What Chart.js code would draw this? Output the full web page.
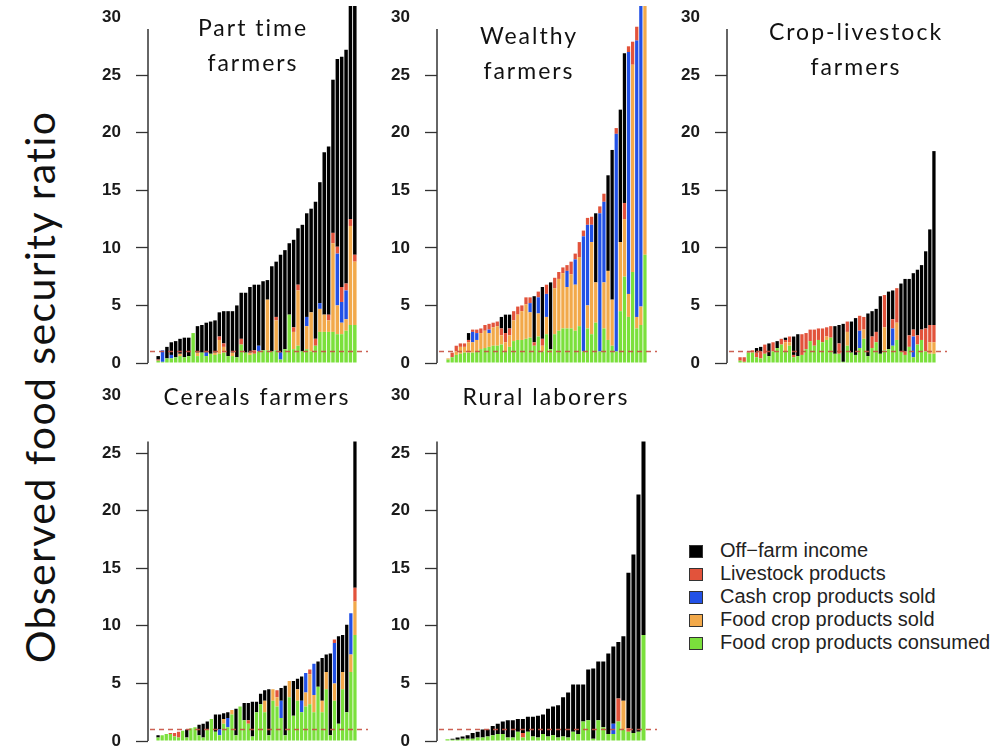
<!DOCTYPE html>
<html><head><meta charset="utf-8">
<script src="https://cdn.jsdelivr.net/npm/chart.js@4.4.1/dist/chart.umd.min.js"></script>
<style>
html,body{margin:0;padding:0;background:#fff;width:994px;height:747px;overflow:hidden;}
body{position:relative;}
canvas{position:absolute;}
.ttl{position:absolute;width:220px;font-family:Lato,'Open Sans',sans-serif;font-size:23px;letter-spacing:2px;color:#111;text-align:center;line-height:35px;white-space:nowrap;}
#ytitle{position:absolute;left:40px;top:387px;width:640px;margin-left:-320px;margin-top:-26px;height:52px;line-height:52px;text-align:center;font-family:Lato,'Open Sans',sans-serif;font-size:41px;letter-spacing:1.4px;color:#111;transform:rotate(-90deg);white-space:nowrap;}
#legend{position:absolute;left:689px;top:539px;font-family:'Liberation Sans',Arial,sans-serif;font-size:20px;color:#222;}
#legend .row{height:23px;line-height:23px;white-space:nowrap;}
#legend .sw{display:inline-block;width:12px;height:11px;border:1px solid #333;margin-right:17px;vertical-align:-1px;}
</style></head><body>
<div id="ytitle">Observed food security ratio</div>
<canvas id="c1" width="320" height="420" style="left:60px;top:-30px"></canvas>
<canvas id="c2" width="320" height="420" style="left:349px;top:-30px"></canvas>
<canvas id="c3" width="320" height="420" style="left:639px;top:-30px"></canvas>
<canvas id="c4" width="320" height="405" style="left:60px;top:365px"></canvas>
<canvas id="c5" width="320" height="405" style="left:349px;top:365px"></canvas>
<div class="ttl" style="left:143px;top:9.5px">Part time<br>farmers</div>
<div class="ttl" style="left:419px;top:17.5px">Wealthy<br>farmers</div>
<div class="ttl" style="left:746px;top:13.5px">Crop-livestock<br>farmers</div>
<div class="ttl" style="left:147px;top:378.5px">Cereals farmers</div>
<div class="ttl" style="left:436px;top:378.5px">Rural laborers</div>
<div id="legend"></div>
<script>
// ---------- data ----------
const seriesNames = ['Off\u2212farm income','Livestock products','Cash crop products sold','Food crop products sold','Food crop products consumed'];
const yTicks = [0,5,10,15,20,25,30];
const refRatio = 1;

// Part time farmers
const partGreen  = [0.2,0.1,0.4,0.4,0.5,0.6,0.5,0.6,2.6,0.6, 0.9,0.6,0.8,0.7,0.8,0.9,0.6,0.6,0.5,1.6, 0.9,0.7,0.8,1.0,1.1,1.1,1.0,1.1,0.3,1.2, 4.2,1.2,1.5,1.0,1.2,1.0,1.5,2.7,2.7,2.7, 2.7,2.5,2.5,2.8,3.3,3.3];
const partOrange = [0,0,0,0,0,0.2,0,0,0,0.3, 0,0,0,0.2,1.2,0.5,0,0.3,0,0, 0,0.2,0,0,0,4.4,0,2.6,0,0, 0,1.5,4.8,0,2.0,3.4,0,2.0,1.5,1.0, 7.7,2.5,1.0,1.0,8.6,5.5];
const partBlue   = [0,1.0,0,0.3,0,0,0,0,0,0, 0,0.3,0,0,0,0,0,0,0,0, 0,0,0,0.5,0,0,0,0,0.6,0, 0,0,0,0,0.8,0,0,0.5,0,0, 0,4.5,1.8,2.5,0,0];
const partRed    = [0.1,0,0,0,0,0,0,0,0,0, 0,0,0,0,0.3,0.3,0,0,0,0.5, 0,0,0.3,0,0,0,0,0.3,0,0, 0,0.4,0.5,0,0,0,0.6,0,0,0.5, 0.9,0.6,1.3,0.6,0.6,0.6];
const partBlack  = [0.3,0,1.0,1.1,1.4,1.3,1.7,1.6,0,2.3, 2.4,2.6,2.8,2.8,2.1,2.8,3.9,3.6,4.5,4.0, 5.2,5.7,5.7,5.3,6.0,1.7,7.4,4.8,8.5,8.6, 6.2,7.6,4.9,11.0,9.0,9.0,11.9,10.5,14.1,14.6, 13.3,16.3,20.0,20.3,20.5,23.6];

// Wealthy farmers
const wealthGreen  = [0.3,0.5,0.7,0.8,0.9,0.9,0.9,1.0,1.2,1.3, 1.4,1.5,1.5,1.6,1.0,1.4,1.9,2.0,2.0,2.1, 2.2,1.5,2.3,1.0,2.5,1.2,2.5,2.8,3.0,3.0, 3.0,2.8,3.2,1.0,3.0,2.5,3.5,1.0,3.0,2.0, 1.5,1.0,4.5,7.5,4.0,7.9,3.0,3.3,9.4];
const wealthOrange = [0.1,0,0.3,0.6,0.5,0.9,0.9,1.0,1.4,1.5, 1.2,1.6,1.7,0.8,0.8,1.0,1.8,2.2,2.5,3.0, 2.2,0,2.0,0.5,1.5,0,4.0,4.5,4.8,3.6, 4.7,4.0,6.0,0,2.0,8.0,3.5,0,4.0,6.0, 4.0,0,6.0,5.0,2.0,18.0,1.0,1.6,21.6];
const wealthBlue   = [0,0,0,0,0,0,0.9,0.6,0,0, 0.3,0,0,0,0,0,0,0,0,0, 0.8,0,1.4,0,2.0,0,0,0,0,1.4, 0,2.2,0,10.0,7.0,1.5,0,12.0,7.0,0, 0,18.9,0,0,21.0,0,24.0,26.1,0];
const wealthRed    = [0,0.4,0.5,0.3,0.3,0.2,0.2,0.3,0.4,0.5, 0.5,0.4,0.4,0.6,0.8,0.6,0.8,0.7,0.5,0.6, 0.5,0.3,0.5,0.6,0.8,0,0.9,0.6,0.5,0.5, 1.1,0.5,1.3,0.5,0.6,0.7,0,0.6,0.7,0, 0,0.5,0,1.4,0.5,2.0,1.2,0,0];
const wealthBlack  = [0,0,0,0,0,0.6,0,0,0,0, 0,0,0,1.0,1.6,1.2,0,0,0,0, 0,4.0,0,4.5,0,5.8,0,0,0,0, 0,0,0,0,0,0,6.0,0,0,8.3, 13.0,0,11.5,13.0,0,0,0,0,0];

// Crop-livestock farmers
const cropGreen  = [0.2,0.1,0.9,0.9,0.5,0.4,0.8,0.6,1.0,1.3, 1.6,1.0,1.5,0.5,0.6,0.7,1.2,1.9,1.5,2.0, 1.8,2.0,2.2,0.8,0.8,0.1,1.5,0.9,0.7,1.3, 2.1,0.6,1.3,1.8,0.8,1.1,1.2,1.5,2.0,1.0, 0.7,1.4,0.5,1.6,2.0,1.0,0.8,0.8];
const cropOrange = [0,0,0,0,0,0,0,0,0,0, 0,0.8,0.3,0,0,0,0,0,0,0, 0,0.3,0,0,0,0,1.2,0,0,0, 0.8,0,0,0,0,2.0,0,0,1.5,0, 0,0,0,0,0,0,1.0,1.0];
const cropBlue   = [0,0,0,0,0,0,0,0,0,0, 0,0,0,0,0,0,0,0,0,0, 0,0,0,0,0,0,0,0,0,1.5, 0,0,0,0,0,0,0,1.5,0,0, 0,0,1.8,0,0,0,0,0];
const cropRed    = [0.3,0.4,0.1,0.2,0.4,0.6,0.8,0,0.8,0, 0.5,0.2,0.5,0.2,0,1.8,1.4,1.0,1.4,1.0, 1.2,0.8,1.0,0,0.9,0,0.9,0,0,1.3, 1.1,0,1.0,0.9,0,2.8,0,0.8,3.0,0, 0.3,1.0,0.6,0.8,0.9,2.0,1.5,1.5];
const cropBlack  = [0,0,0,0,0.4,0.4,0,1.1,0,0.6, 0,0.2,0,1.6,1.9,0,0,0,0,0, 0,0,0,2.4,1.6,3.3,0,2.7,3.2,0, 0,3.7,2.2,2.0,5.0,0,5.0,2.5,0,5.9, 6.3,4.9,4.9,5.7,5.6,6.7,8.3,15.1];

// Cereals farmers
const cerGreen  = [0.3,0.5,0.6,0.6,0.4,0.3,0.9,0.3,1.1,1.2, 0.5,0.3,1.0,1.9,0.8,0.5,1.5,1.2,2.3,0.5, 3.0,1.8,1.5,0.4,2.5,3.2,2.5,0.5,3.5,3.0, 2.0,0.5,3.8,2.2,3.5,2.5,3.0,3.2,2.5,4.7, 2.5,4.5,0.5,3.5,1.5,4.5,2.5,6.0,9.2];
const cerOrange = [0,0,0,0,0,0,0,0,0,0, 0,0,0,0,0,0,0.4,0,0.4,0, 0,0,0,0,0,0,1.0,0,1.0,0.8, 0,0,1.4,0,1.0,0,1.2,2.6,1.5,0, 1.0,1.5,0,1.5,0,1.5,0,1.5,2.9];
const cerBlue   = [0,0,0,0,0,0,0,0,0,0, 0,0,0,0,0,0.5,0,0.8,0,0, 0,0,0,0,0,0,0,0,0,0, 1.5,0,0,0,0,1.0,1.7,0,2.7,0, 0,0,0,3.5,0,0,0,3.6,0];
const cerRed    = [0,0,0,0.1,0.3,0.5,0,0,0,0, 0,0,0,0,0,0,0,0,0,0, 0,0,0.3,0,0,0,0,0,0,0.6, 0,0,0,0,0,0,0,0.4,0,0, 0,0,0,0.3,0,0,0,0,1.2];
const cerBlack  = [0.2,0,0,0,0,0,0,0.7,0,0, 0.9,1.2,0.7,0,1.5,1.3,0.5,0.5,0,2.3, 0,1.5,1.5,3.0,0.9,0.9,0.9,4.0,0,0, 1.1,4.3,0,3.0,0.9,2.1,0,0,0,2.2, 3.7,1.5,7.1,0,7.6,3.2,7.6,0,12.7];

// Rural laborers
const ruralGreen  = [0.15,0.1,0.1,0.2,0.2,0.2,0.3,0.3,0.4,0.5, 0.6,0.6,0.3,0.3,0.8,0.3,0.8,0.4,0.3,0.6, 0.4,0.5,0.3,0.4,0.3,0.8,0.6,1.7,1.8,0.2, 1.8,1.2,0.6,0.6,1.7,1.0,0.8,0.7,0.8,9.2];
const ruralOrange = [0,0,0,0,0,0,0,0,0,0, 0,0,0,0,0,0,0,0,0,0, 0,0,0,0,0,0,0,0,0,0, 0,0,0,0,0,2.5,0,0,0,0];
const ruralBlue   = [0,0,0,0,0,0,0,0,0,0, 0,0,0,0,0,0,0,0,0,0, 0,0,0,0,0,0,0,0,0,0, 0,0,0,0.9,0,0,0,0,0,0];
const ruralRed    = [0,0,0,0,0,0,0,0,0,0, 0,0,0,0,0,0.4,0,0,0,0, 0,0,0,0,0,0,0,0,0,0, 0,0,0,0,2.0,0,0.3,0,0,0];
const ruralBlack  = [0,0.1,0.2,0.2,0.3,0.5,0.5,0.7,0.6,0.8, 0.9,1.1,1.5,1.5,1.1,1.2,1.3,1.7,1.9,1.7, 2.4,2.5,2.8,3.4,3.9,4.1,4.3,3.2,4.4,6.1, 5.1,5.7,7.0,6.7,4.9,5.6,13.5,15.5,20.6,16.8];

// ---------- styles ----------
const colBlack = '#000000', colRed = '#e2533b', colBlue = '#2251e6', colOrange = '#f2a94a', colGreen = '#7be03c';

const framePlugin = {
  id: 'frame',
  afterDatasetsDraw(chart, args, opts) {
    const {ctx, chartArea, scales} = chart;
    const yr = scales.y.getPixelForValue(opts.ref);
    ctx.save();
    ctx.strokeStyle = 'rgba(200,80,65,0.9)';
    ctx.lineWidth = 1.5;
    ctx.setLineDash([5, 4]);
    ctx.beginPath();
    ctx.moveTo(chartArea.left + 2, yr);
    ctx.lineTo(chartArea.right, yr);
    ctx.stroke();
    ctx.restore();
  },
  afterDraw(chart, args, opts) {
    const {ctx, scales} = chart;
    const y = scales.y;
    const x = y.right;
    ctx.save();
    ctx.strokeStyle = '#333';
    ctx.lineWidth = 1.5;
    ctx.beginPath();
    ctx.moveTo(x, y.getPixelForValue(0));
    ctx.lineTo(x, y.getPixelForValue(opts.axisTop));
    ctx.stroke();
    ctx.restore();
  }
};

function makePanel(id, g, o, b, r, k, cfg) {
  const n = g.length;
  const labels = g.map((_, i) => i + 1);
  const plotW = 220;
  const pitch = (plotW - cfg.gapL - cfg.gapR) / n;
  const xmin = 0.5 - cfg.gapL / pitch;
  const xmax = n + 0.5 + cfg.gapR / pitch;
  new Chart(document.getElementById(id), {
    type: 'bar',
    data: {
      labels,
      datasets: [
        {label: seriesNames[4], data: g, backgroundColor: colGreen},
        {label: seriesNames[3], data: o, backgroundColor: colOrange},
        {label: seriesNames[2], data: b, backgroundColor: colBlue},
        {label: seriesNames[1], data: r, backgroundColor: colRed},
        {label: seriesNames[0], data: k, backgroundColor: colBlack}
      ]
    },
    options: {
      responsive: false,
      animation: false,
      devicePixelRatio: 1,
      layout: {padding: {top: cfg.padTop, bottom: cfg.padBottom, left: 0, right: 12}},
      datasets: {bar: {barPercentage: 0.8, categoryPercentage: 1, borderWidth: 0}},
      plugins: {
        legend: {display: false},
        tooltip: {enabled: false},
        frame: {axisTop: cfg.axisTop, ref: refRatio}
      },
      scales: {
        x: {type: 'linear', offset: false, stacked: true, min: xmin, max: xmax, display: false,
            afterBuildTicks(s) { s.ticks = []; }},
        y: {
          stacked: true, min: 0, max: cfg.yMax,
          afterFit(s) { s.width = 88; },
          afterBuildTicks(s) { s.ticks = yTicks.map(v => ({value: v})); },
          grid: {
            drawOnChartArea: false, tickLength: 12, tickWidth: 1.3,
            tickColor: c => (c.tick && c.tick.value === 30) ? 'rgba(0,0,0,0)' : '#333'
          },
          border: {display: false},
          ticks: {padding: 15, color: '#1a1a1a', font: {family: '"Liberation Sans", Arial, sans-serif', size: 17, weight: 'bold'}}
        }
      }
    },
    plugins: [framePlugin]
  });
}

// canvas top row: page y = canvas y - 30; bottom row: page y = canvas y + 365
const topRow = {yMax: 31, axisTop: 29, padTop: 36, padBottom: 27};
const botRow = {yMax: 30, axisTop: 26, padTop: 30.4, padBottom: 29};
makePanel('c1', partGreen, partOrange, partBlue, partRed, partBlack, Object.assign({gapL: 8, gapR: 11}, topRow));
makePanel('c2', wealthGreen, wealthOrange, wealthBlue, wealthRed, wealthBlack, Object.assign({gapL: 9, gapR: 10}, topRow));
makePanel('c3', cropGreen, cropOrange, cropBlue, cropRed, cropBlack, Object.assign({gapL: 11, gapR: 11}, topRow));
makePanel('c4', cerGreen, cerOrange, cerBlue, cerRed, cerBlack, Object.assign({gapL: 8, gapR: 11}, botRow));
makePanel('c5', ruralGreen, ruralOrange, ruralBlue, ruralRed, ruralBlack, Object.assign({gapL: 8, gapR: 11}, botRow));

// legend
const legendColors = [colBlack, colRed, colBlue, colOrange, colGreen];
const lg = document.getElementById('legend');
seriesNames.forEach((name, i) => {
  const row = document.createElement('div');
  row.className = 'row';
  const sw = document.createElement('span');
  sw.className = 'sw';
  sw.style.background = legendColors[i];
  row.appendChild(sw);
  row.appendChild(document.createTextNode(name));
  lg.appendChild(row);
});
</script>
</body></html>
